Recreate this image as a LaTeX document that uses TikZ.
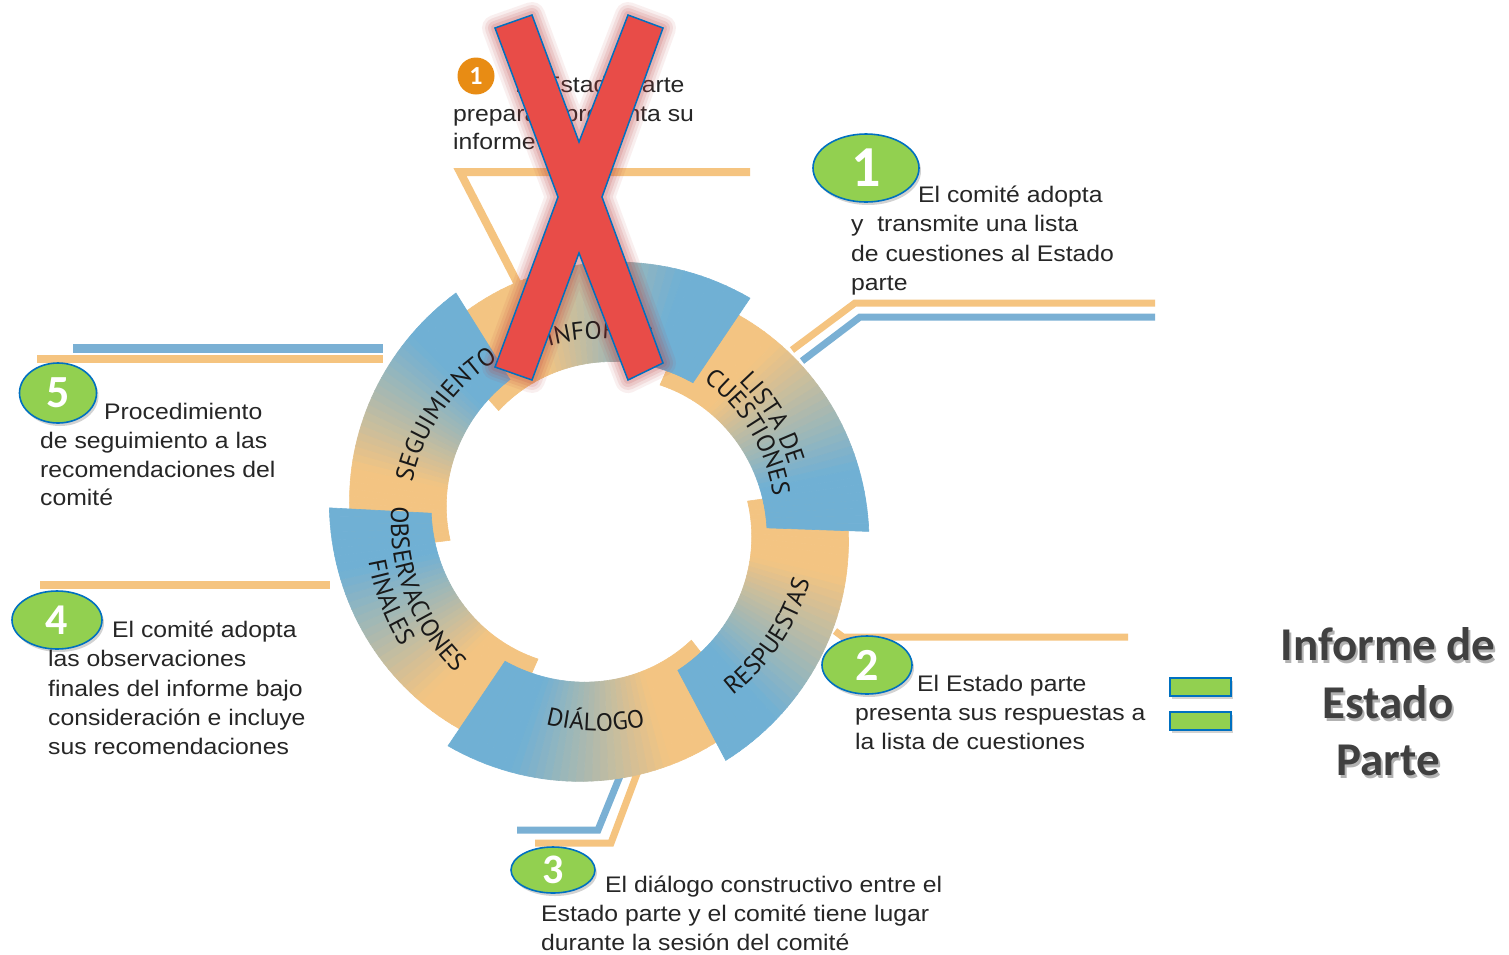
\documentclass[tikz,border=0pt]{standalone}
\usepackage{fontspec}
\setmainfont{Liberation Sans}
\newfontfamily\bodyfont[FakeStretch=1.1]{Liberation Sans}
\newfontfamily\ringfont{PT Sans}
\newfontfamily\calfont{Carlito}
\usetikzlibrary{decorations.text,shadows,shapes.geometric}
\definecolor{ringO}{RGB}{243,196,130}
\definecolor{ringB}{RGB}{112,176,212}
\definecolor{lineO}{RGB}{245,196,128}
\definecolor{lineB}{RGB}{122,176,212}
\definecolor{txtC}{RGB}{38,38,38}
\definecolor{ringT}{RGB}{25,25,25}
\definecolor{greenF}{RGB}{146,208,80}
\definecolor{blueE}{RGB}{0,112,192}
\definecolor{xred}{RGB}{232,76,72}
\definecolor{glowC}{RGB}{190,60,60}
\definecolor{orangeC}{RGB}{232,140,20}
\definecolor{titleC}{RGB}{64,64,64}
\newcommand\ringfnt{\ringfont\fontsize{25}{25}\selectfont}
\begin{document}
\begin{tikzpicture}[x=1pt,y=-1pt,
  body/.style={anchor=base west,inner sep=0pt,font=\bodyfont\fontsize{22.5}{29}\selectfont,text=txtC},
  oline/.style={draw=lineO,line width=8pt},
  bline/.style={draw=lineB,line width=8pt},
  numell/.style={ellipse,draw=blueE,line width=1.6pt,fill=greenF,inner sep=0pt,
     drop shadow={shadow xshift=2pt,shadow yshift=-3pt,opacity=0.35}},
  numtxt/.style={text=white},
  ringlbl/.style={decorate,decoration={text along path,text align=center,text color=ringT}}]
\useasboundingbox (0,0) rectangle (1509,954);
\fill[white] (0,0) rectangle (1509,954);

% connectors
\coordinate (x1a) at (522,292); \coordinate (x1b) at (460,172); \coordinate (x1c) at (750,172);
\draw[oline] (x1a) -- (x1b) -- (x1c);
\coordinate (c1oa) at (792,350); \coordinate (c1ob) at (855,303); \coordinate (c1oc) at (1155,303);
\coordinate (c1ba) at (802,361); \coordinate (c1bb) at (860,317); \coordinate (c1bc) at (1155,317);
\draw[oline,line width=7pt] (c1oa) -- (c1ob) -- (c1oc);
\draw[bline,line width=7pt] (c1ba) -- (c1bb) -- (c1bc);
\coordinate (c5ba) at (73,348); \coordinate (c5bb) at (383,348);
\coordinate (c5oa) at (37,359); \coordinate (c5ob) at (383,359);
\draw[bline,line width=9pt] (c5ba) -- (c5bb);
\draw[oline] (c5oa) -- (c5ob);
\coordinate (c4a) at (40,585); \coordinate (c4b) at (330,585);
\draw[oline] (c4a) -- (c4b);
\coordinate (c2a) at (835,631); \coordinate (c2b) at (843,637); \coordinate (c2c) at (1128,637);
\draw[oline,line width=7pt] (c2a) -- (c2b) -- (c2c);
\coordinate (c3ba) at (620,776); \coordinate (c3bb) at (598,830); \coordinate (c3bc) at (517,830);
\coordinate (c3oa) at (641,763); \coordinate (c3ob) at (611,843); \coordinate (c3oc) at (535,843);
\draw[bline,line width=7pt] (c3ba) -- (c3bb) -- (c3bc);
\draw[oline,line width=7pt] (c3oa) -- (c3ob) -- (c3oc);

% ring
\begin{scope}[shift={(599,522)},y=1pt]
\foreach \pass in {0,1}{
 \foreach \s/\e in {132/56,66/-2,8/-62,-52/-124,246/177,187/122}{
  \foreach \i in {0,...,19}{
   \pgfmathtruncatemacro\k{\i+20*\pass}
   \pgfmathsetmacro\ta{\k/40}
   \pgfmathsetmacro\tb{(\k+1)/40}
   \pgfmathsetmacro\aa{\s+(\e-\s)*\ta}
   \pgfmathsetmacro\ab{\s+(\e-\s)*\tb}
   \pgfmathsetmacro\ria{150+18*\ta}
   \pgfmathsetmacro\rib{150+18*\tb}
   \pgfmathsetmacro\roa{246+24*\ta}
   \pgfmathsetmacro\rob{246+24*\tb}
   \pgfmathsetmacro\cc{max(0,min(100,((\ta+\tb)/2-0.3)*200))}
   \fill[fill=ringB!\cc!ringO,draw=ringB!\cc!ringO,line width=0.6pt]
     (\aa:\ria) -- (\aa:\roa) -- (\ab:\rob) -- (\ab:\rib) -- cycle;
  }}}
\path[ringlbl,decoration={text={|\ringfnt|SEGUIMIENTO}}] (175:191) arc[start angle=175,end angle=115,radius=191];
\path[ringlbl,decoration={text={|\ringfnt|INFORME}}] (125:183) arc[start angle=125,end angle=55,radius=183];
\path[ringlbl,decoration={text={|\ringfnt|LISTA DE}}] (66:198) arc[start angle=66,end angle=-4,radius=198];
\path[ringlbl,decoration={text={|\ringfnt|CUESTIONES}}] (66:176) arc[start angle=66,end angle=-4,radius=176];
\path[ringlbl,decoration={text={|\ringfnt|RESPUESTAS}}] (-69:219) arc[start angle=-69,end angle=1,radius=219];
\path[ringlbl,decoration={text={|\ringfnt|DIÁLOGO}}] (-126:209) arc[start angle=-126,end angle=-56,radius=209];
\path[ringlbl,decoration={text={|\ringfnt|OBSERVACIONES}}] (166:208) arc[start angle=166,end angle=236,radius=208];
\path[ringlbl,decoration={text={|\ringfnt|FINALES}}] (166:234) arc[start angle=166,end angle=236,radius=234];
\end{scope}

% crossed item
\node[circle,fill=orangeC,minimum size=37pt,inner sep=0pt,text=white,font=\calfont\bfseries\fontsize{26}{26}\selectfont] (n0) at (476,76) {1};
\node[body] (t0a) at (515,92) {El Estado parte};
\node[body] (t0b) at (453,121) {prepara y presenta su};
\node[body] (t0c) at (453,149) {informe};

% red X
\def\xshape{(495,28) -- (532,15) -- (579,142) -- (628,15) -- (663,28) -- (602,197) -- (663,363) -- (628,380) -- (579,253) -- (532,380) -- (495,367) -- (558,197) -- cycle}
\foreach \w/\o in {26/0.08,20/0.1,14/0.12,8/0.15}{
  \draw[glowC,opacity=\o,line width=\w pt,line join=round] \xshape;
}
\draw[fill=xred,draw=blueE,line width=1.5pt] \xshape;

% number ellipses
\node[numell,minimum width=106pt,minimum height=68pt] (e1) at (866,168) {};
\node[numtxt,font=\calfont\bfseries\fontsize{58}{58}\selectfont] at (e1) {1};
\node[numell,minimum width=77pt,minimum height=60pt] (e5) at (58,393) {};
\node[numtxt,font=\calfont\bfseries\fontsize{46}{46}\selectfont] at (e5) {5};
\node[numell,minimum width=90pt,minimum height=58pt] (e4) at (57,620) {};
\node[numtxt,font=\calfont\bfseries\fontsize{44}{44}\selectfont] at (e4) {4};
\node[numell,minimum width=90pt,minimum height=58pt] (e2) at (867,665) {};
\node[numtxt,font=\calfont\bfseries\fontsize{46}{46}\selectfont] at (e2) {2};
\node[numell,minimum width=84pt,minimum height=46pt] (e3) at (553,870) {};
\node[numtxt,font=\calfont\bfseries\fontsize{42}{42}\selectfont] at (e3) {3};

% texts
\node[body] (t1a) at (918,202) {El comité adopta};
\node[body] (t1b) at (851,231) {y\ \ transmite una lista};
\node[body] (t1c) at (851,261) {de cuestiones al Estado};
\node[body] (t1d) at (851,290) {parte};

\node[body] (t5a) at (104,419) {Procedimiento};
\node[body] (t5b) at (40,448) {de seguimiento a las};
\node[body] (t5c) at (40,477) {recomendaciones del};
\node[body] (t5d) at (40,505) {comité};

\node[body] (t4a) at (112,637) {El comité adopta};
\node[body] (t4b) at (48,666) {las observaciones};
\node[body] (t4c) at (48,696) {finales del informe bajo};
\node[body] (t4d) at (48,725) {consideración e incluye};
\node[body] (t4e) at (48,754) {sus recomendaciones};

\node[body] (t2a) at (917,691) {El Estado parte};
\node[body] (t2b) at (855,720) {presenta sus respuestas a};
\node[body] (t2c) at (855,749) {la lista de cuestiones};

\node[body] (t3a) at (605,892) {El diálogo constructivo entre el};
\node[body] (t3b) at (541,921) {Estado parte y el comité tiene lugar};
\node[body] (t3c) at (541,950) {durante la sesión del comité};

% equals sign
\draw[fill=greenF,draw=blueE,line width=1.5pt,drop shadow={shadow xshift=2pt,shadow yshift=-3pt,opacity=0.35}] (1170,678) rectangle (1231,696);
\draw[fill=greenF,draw=blueE,line width=1.5pt,drop shadow={shadow xshift=2pt,shadow yshift=-3pt,opacity=0.35}] (1170,712) rectangle (1231,730);

% title
\foreach \tx/\ty/\tt in {1388/660/Informe de,1388/718/Estado,1388/775/Parte}{
  \node[anchor=base,inner sep=0pt,text=black,opacity=0.3,font=\calfont\bfseries\fontsize{47}{47}\selectfont] at (\tx+2,\ty+3) {\tt};
}
\node[anchor=base,inner sep=0pt,text=titleC,font=\calfont\bfseries\fontsize{47}{47}\selectfont] (ti1) at (1388,660) {Informe de};
\node[anchor=base,inner sep=0pt,text=titleC,font=\calfont\bfseries\fontsize{47}{47}\selectfont] (ti2) at (1388,718) {Estado};
\node[anchor=base,inner sep=0pt,text=titleC,font=\calfont\bfseries\fontsize{47}{47}\selectfont] (ti3) at (1388,775) {Parte};
\end{tikzpicture}
\end{document}
